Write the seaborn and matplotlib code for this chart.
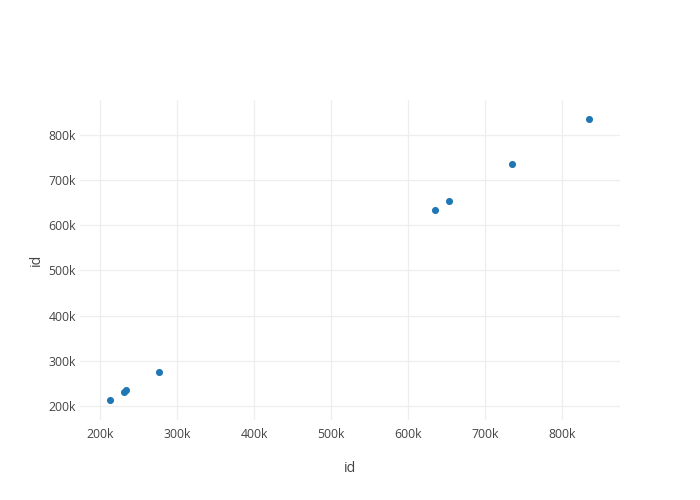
import matplotlib
matplotlib.use("Agg")
import matplotlib.pyplot as plt
import seaborn as sns
import pandas as pd
from matplotlib.ticker import FuncFormatter, MultipleLocator

x_ids = [213500, 231200, 234300, 276300, 634600, 653400, 734500, 835000]
y_ids = [213500, 231200, 234300, 276300, 634600, 653400, 734500, 835000]

df = pd.DataFrame({"x": x_ids, "y": y_ids})

sns.set_style("white")
plt.rcParams['font.family'] = ['Open Sans', 'DejaVu Sans']

fig = plt.figure(figsize=(7, 5), dpi=100)
ax = fig.add_axes([80/700, 80/500, 540/700, 320/500])

sns.scatterplot(data=df, x="x", y="y", ax=ax, color="#1f77b4", s=26,
                linewidth=0, zorder=3)

ax.set_xlim(174000, 875000)
ax.set_ylim(169000, 877000)
ax.xaxis.set_major_locator(MultipleLocator(100000))
ax.yaxis.set_major_locator(MultipleLocator(100000))
fmt = FuncFormatter(lambda v, p: f"{int(round(v/1000))}k")
ax.xaxis.set_major_formatter(fmt)
ax.yaxis.set_major_formatter(fmt)

ax.grid(True, color="#eeeeee", linewidth=0.9)
ax.set_axisbelow(True)
for s in ax.spines.values():
    s.set_visible(False)
ax.tick_params(axis="both", length=0, labelsize=8.8, colors="#444444")
ax.tick_params(axis="x", pad=6)
ax.tick_params(axis="y", pad=3)

ax.set_xlabel("id", fontsize=10.2, color="#444444", labelpad=14)
ax.set_ylabel("id", fontsize=10.2, color="#444444", labelpad=3)

fig.savefig("out.png", dpi=100, facecolor="white")
